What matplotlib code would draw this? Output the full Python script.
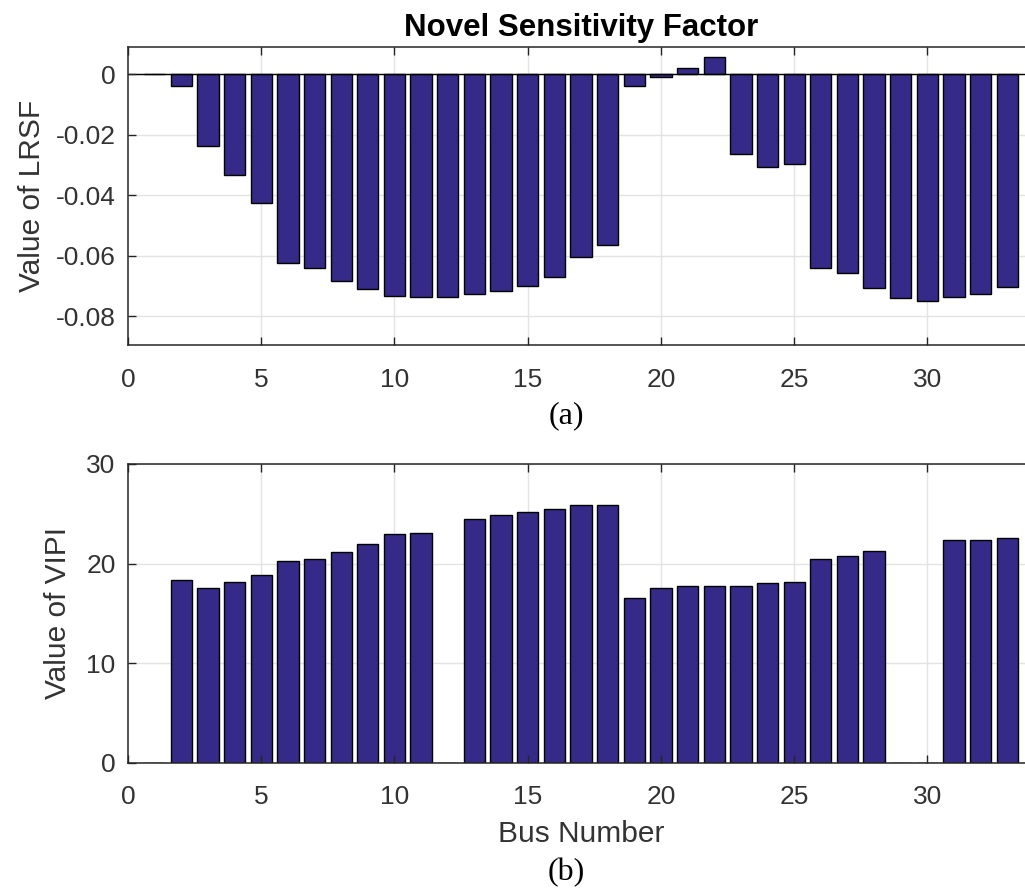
import numpy as np
import matplotlib
matplotlib.use("Agg")
import matplotlib.pyplot as plt

# bus index and the two sensitivity measures
bus = np.arange(1, 34)
lrsf = [0, -0.0039, -0.0238, -0.0334, -0.0426, -0.0625, -0.0642, -0.0684,
        -0.0711, -0.0732, -0.0735, -0.0735, -0.0726, -0.0716, -0.0699, -0.0671,
        -0.0605, -0.0564, -0.0039, -0.0010, 0.0021, 0.0058, -0.0264, -0.0306,
        -0.0298, -0.0639, -0.0657, -0.0707, -0.0740, -0.0749, -0.0735, -0.0726,
        -0.0703]
vipi = [0, 18.33, 17.52, 18.19, 18.90, 20.30, 20.43, 21.14, 21.94, 22.94,
        23.08, 0, 24.48, 24.92, 25.18, 25.48, 25.89, 25.89, 16.52, 17.52,
        17.76, 17.76, 17.76, 18.06, 18.19, 20.47, 20.74, 21.30, 0, 0,
        22.41, 22.41, 22.54]

xticks = [0, 5, 10, 15, 20, 25, 30]
yticks_a = [0, -0.02, -0.04, -0.06, -0.08]
ytick_labels_a = ["0", "-0.02", "-0.04", "-0.06", "-0.08"]
yticks_b = [0, 10, 20, 30]

BAR = "#352A87"
AXC = "#262626"
TXT = "#333333"
GRID = "#e3e3e3"
SANS = ["Liberation Sans", "DejaVu Sans"]

plt.rcParams["font.family"] = SANS

fig = plt.figure(figsize=(10.25, 8.91), dpi=100)
ax_a = fig.add_axes([128 / 1025, 545.7 / 891, 906 / 1025, 298 / 891])
ax_b = fig.add_axes([128 / 1025, 128.3 / 891, 906 / 1025, 298.7 / 891])


def style(ax, yt):
    ax.set_xlim(0, 34)
    ax.set_xticks(xticks)
    ax.set_yticks(yt)
    for x in xticks[1:]:
        ax.axvline(x, color=GRID, lw=1, zorder=0)
    for y in yt:
        ax.axhline(y, color=GRID, lw=1, zorder=0)
    ax.tick_params(direction="in", top=True, right=True, length=6, width=1,
                   color=AXC, labelcolor=TXT, labelsize=19)
    ax.tick_params(axis="x", pad=16)
    ax.tick_params(axis="y", pad=9)
    for s in ax.spines.values():
        s.set_color(AXC)
        s.set_linewidth(1.1)


# --- (a) LRSF ---
ax_a.bar(bus, lrsf, width=0.8, color=BAR, edgecolor="black", linewidth=1, zorder=1)
ax_a.axhline(0, color="black", lw=1, zorder=1.5)
style(ax_a, yticks_a)
ax_a.set_yticklabels(ytick_labels_a)
ax_a.set_ylim(-0.0896, 0.0089)
ax_a.set_ylabel("Value of LRSF", fontsize=21.5, color=TXT, labelpad=7)
ax_a.set_title("Novel Sensitivity Factor", fontsize=22.5, fontweight="bold", pad=8)

# --- (b) VIPI ---
ax_b.bar(bus, vipi, width=0.8, color=BAR, edgecolor="black", linewidth=1, zorder=1)
style(ax_b, yticks_b)
ax_b.set_ylim(0, 30)
ax_b.set_ylabel("Value of VIPI", fontsize=21.5, color=TXT, labelpad=10)
ax_b.set_xlabel("Bus Number", fontsize=21.5, color=TXT, labelpad=8)

serif = ["Liberation Serif", "DejaVu Serif"]
fig.text(566 / 1025, 1 - 415.7 / 891, "(a)", ha="center", va="center",
         fontsize=23, family=serif)
fig.text(566 / 1025, 1 - 873 / 891, "(b)", ha="center", va="center",
         fontsize=23, family=serif)

fig.savefig("out.png", dpi=100, facecolor="white")
